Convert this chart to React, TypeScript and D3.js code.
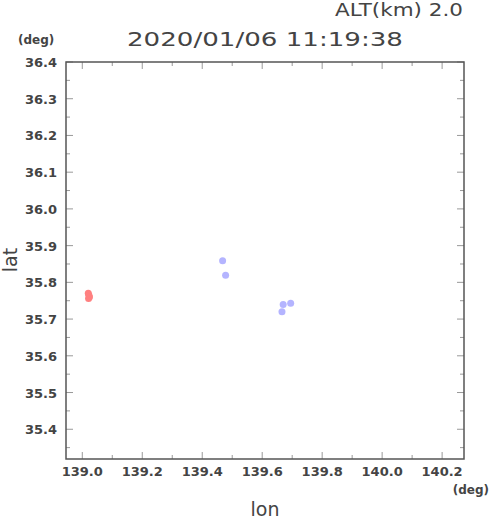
import React, { useEffect, useRef } from 'react';
import * as d3 from 'd3';

// observation time and altitude
const titleText = '2020/01/06 11:19:38';
const altText = 'ALT(km) 2.0';

// tick values
const lonTicks = [139.0, 139.2, 139.4, 139.6, 139.8, 140.0, 140.2];
const lonMinor = [139.1, 139.3, 139.5, 139.7, 139.9, 140.1];
const latTicks = [35.4, 35.5, 35.6, 35.7, 35.8, 35.9, 36.0, 36.1, 36.2, 36.3, 36.4];
const latMinor = [35.35, 35.45, 35.55, 35.65, 35.75, 35.85, 35.95, 36.05, 36.15, 36.25, 36.35];

// red group points
const redLon = [139.020, 139.022, 139.024, 139.021];
const redLat = [35.770, 35.765, 35.760, 35.756];

// blue group points
const blueLon = [139.468, 139.478, 139.670, 139.695, 139.666];
const blueLat = [35.859, 35.819, 35.740, 35.743, 35.720];

const App = () => {
  const ref = useRef<SVGSVGElement | null>(null);

  useEffect(() => {
    if (!ref.current) return;
    const svg = d3.select(ref.current);
    svg.selectAll('*').remove();

    const left = 66, right = 464, top = 62, bottom = 459;
    const x = d3.scaleLinear().domain([138.9457, 140.273]).range([left, right]);
    const y = d3.scaleLinear().domain([35.319, 36.4]).range([bottom, top]);

    const font = '"DejaVu Sans", sans-serif';
    const tickColor = '#999';
    const textColor = '#444';

    // ticks
    const g = svg.append('g').attr('stroke', tickColor).attr('stroke-width', 1);
    const xt = (vals: number[], len: number) => {
      vals.forEach(v => {
        g.append('line').attr('x1', x(v)).attr('x2', x(v)).attr('y1', bottom).attr('y2', bottom - len);
        g.append('line').attr('x1', x(v)).attr('x2', x(v)).attr('y1', top).attr('y2', top + len);
      });
    };
    const yt = (vals: number[], len: number) => {
      vals.forEach(v => {
        g.append('line').attr('y1', y(v)).attr('y2', y(v)).attr('x1', left).attr('x2', left + len);
        g.append('line').attr('y1', y(v)).attr('y2', y(v)).attr('x1', right).attr('x2', right - len);
      });
    };
    xt(lonTicks, 7);
    xt(lonMinor, 4);
    yt(latTicks, 7);
    yt(latMinor, 4);

    // frame
    svg.append('rect')
      .attr('x', left).attr('y', top)
      .attr('width', right - left).attr('height', bottom - top)
      .attr('fill', 'none').attr('stroke', '#555').attr('stroke-width', 1.5);

    // tick labels
    svg.append('g').selectAll('text').data(lonTicks).enter().append('text')
      .attr('x', d => x(d)).attr('y', 476)
      .attr('text-anchor', 'middle')
      .style('font-family', font).style('font-weight', 'bold').style('font-size', '13px')
      .style('fill', textColor)
      .text(d => d.toFixed(1));

    svg.append('g').selectAll('text').data(latTicks).enter().append('text')
      .attr('x', 57).attr('y', d => y(d) + 5)
      .attr('text-anchor', 'end')
      .style('font-family', font).style('font-weight', 'bold').style('font-size', '13px')
      .style('fill', textColor)
      .text(d => d.toFixed(1));

    // points
    const pts = svg.append('g');
    blueLon.forEach((v, i) => {
      pts.append('circle').attr('cx', x(v)).attr('cy', y(blueLat[i])).attr('r', 3.5)
        .attr('fill', '#b4b4ff');
    });
    redLon.forEach((v, i) => {
      pts.append('circle').attr('cx', x(v)).attr('cy', y(redLat[i])).attr('r', 3.5)
        .attr('fill', '#ff8080');
    });

    // texts
    svg.append('text').attr('x', 463).attr('y', 16).attr('text-anchor', 'end')
      .style('font-family', font).style('font-size', '18px').style('fill', textColor)
      .attr('textLength', 128).attr('lengthAdjust', 'spacingAndGlyphs')
      .text(altText);

    svg.append('text').attr('x', 265).attr('y', 46).attr('text-anchor', 'middle')
      .style('font-family', font).style('font-size', '20px').style('fill', textColor)
      .attr('textLength', 276).attr('lengthAdjust', 'spacingAndGlyphs')
      .text(titleText);

    svg.append('text').attr('x', 18).attr('y', 44)
      .style('font-family', font).style('font-weight', 'bold').style('font-size', '12px')
      .style('fill', textColor)
      .text('(deg)');

    svg.append('text').attr('x', 489).attr('y', 494).attr('text-anchor', 'end')
      .style('font-family', font).style('font-weight', 'bold').style('font-size', '12px')
      .style('fill', textColor)
      .text('(deg)');

    svg.append('text').attr('x', 265).attr('y', 516).attr('text-anchor', 'middle')
      .style('font-family', font).style('font-size', '19px').style('fill', textColor)
      .text('lon');

    svg.append('text').attr('transform', 'translate(17,260) rotate(-90)')
      .attr('text-anchor', 'middle')
      .style('font-family', font).style('font-size', '19px').style('fill', textColor)
      .text('lat');
  }, []);

  return (
    <div style={{ position: 'absolute', left: 0, top: 0 }}>
      <svg ref={ref} width={490} height={521} style={{ display: 'block', background: '#fff' }} />
    </div>
  );
};

export default App;
